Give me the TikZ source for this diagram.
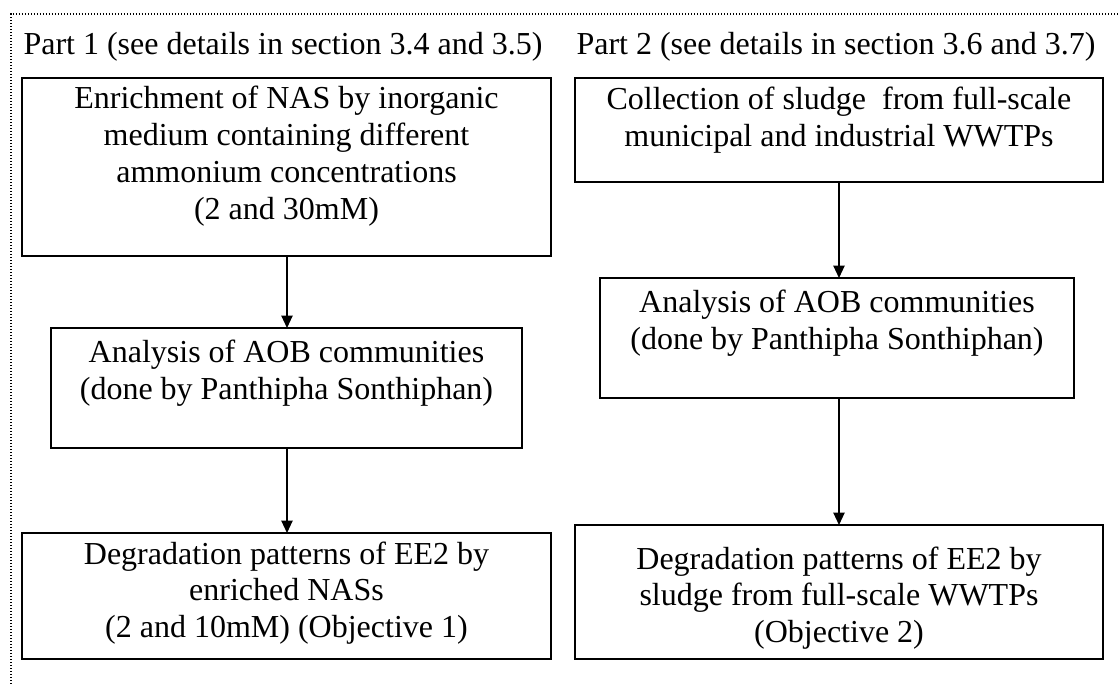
\documentclass[tikz,border=0pt]{standalone}
\usepackage{fontspec}
\setmainfont{Liberation Serif}
\usetikzlibrary{arrows.meta}
\tikzset{
  stepbox/.style={draw, line width=0.5pt, inner sep=0pt, outer sep=0pt},
  thickbox/.style={draw, line width=0.8pt, inner sep=0pt, outer sep=0pt},
  boxtext/.style={align=center, inner sep=0pt, font=\fontsize{12}{13.8}\selectfont},
  header/.style={inner sep=0pt, font=\fontsize{12}{13.8}\selectfont},
  flow/.style={line width=0.5pt, -{Triangle[length=4.6pt,width=4.2pt]}},
  frame/.style={line width=0.7pt, dash pattern=on 0.5pt off 0.625pt}
}
\begin{document}
\begin{tikzpicture}[x=0.375pt,y=-0.375pt]
\useasboundingbox (0,0) rectangle (1119,684);
\draw[frame] (11,684) -- (11,14) -- (1119,14);

\node[header, anchor=base west] (h1) at (23,55) {Part 1 (see details in section 3.4 and 3.5)};
\node[header, anchor=base west] (h2) at (576,55) {Part 2 (see details in section 3.6 and 3.7)};

% left column
\node[stepbox, minimum width=529*0.375pt, minimum height=178*0.375pt] (l1) at (286.5,167) {};
\node[thickbox, minimum width=471*0.375pt, minimum height=120*0.375pt] (l2) at (286.5,388) {};
\node[stepbox, minimum width=529*0.375pt, minimum height=126*0.375pt] (l3) at (286.5,596) {};

\node[boxtext] (l1t) at (286.5,156) {Enrichment of NAS by inorganic\\medium containing different\\ammonium concentrations\\(2 and 30mM)};
\node[boxtext] (l2t) at (286.5,373) {Analysis of AOB communities\\(done by Panthipha Sonthiphan)};
\node[boxtext] (l3t) at (286.5,593) {Degradation patterns of EE2 by\\enriched NASs\\(2 and 10mM) (Objective 1)};

% right column
\node[stepbox, minimum width=528*0.375pt, minimum height=104*0.375pt] (r1) at (839,130) {};
\node[thickbox, minimum width=474*0.375pt, minimum height=120*0.375pt] (r2) at (837,338) {};
\node[stepbox, minimum width=528*0.375pt, minimum height=134*0.375pt] (r3) at (839,592) {};

\node[boxtext] (r1t) at (839,120) {Collection of sludge\ \ from full-scale\\municipal and industrial WWTPs};
\node[boxtext] (r2t) at (837,323) {Analysis of AOB communities\\(done by Panthipha Sonthiphan)};
\node[boxtext] (r3t) at (839,598) {Degradation patterns of EE2 by\\sludge from full-scale WWTPs\\(Objective 2)};

\draw[flow] (l1.south) ++(0.5,0) coordinate (la) (la) -- (la |- l2.north);
\draw[flow] (l2.south) ++(0.5,0) coordinate (lb) (lb) -- (lb |- l3.north);
\draw[flow] (r1.south -| r2.south) ++(2,0) coordinate (ra) (ra) -- (ra |- r2.north);
\draw[flow] (r2.south) ++(2,0) coordinate (rb) (rb) -- (rb |- r3.north);
\end{tikzpicture}
\end{document}
